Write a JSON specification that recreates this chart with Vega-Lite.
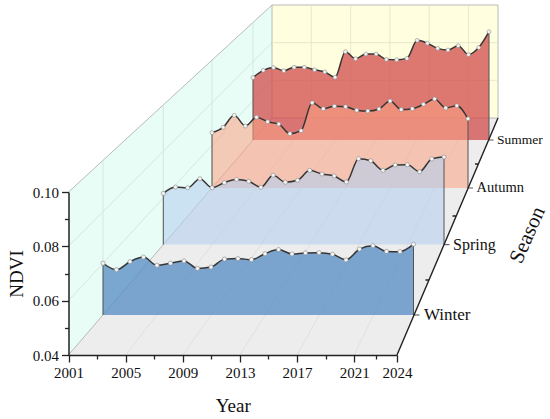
{
  "$schema": "https://vega.github.io/schema/vega-lite/v6.json",
  "width": 550,
  "height": 419,
  "autosize": "none",
  "padding": 0,
  "config": {
    "view": {"stroke": null},
    "axis": {
      "labelFont": "Liberation Serif", "labelFontSize": 15, "labelColor": "#111",
      "titleFont": "Liberation Serif", "titleFontSize": 19, "titleFontWeight": "normal", "titleColor": "#111",
      "domainColor": "#222", "domainWidth": 1.5, "tickColor": "#222", "tickWidth": 1.3
    }
  },
  "datasets": {
    "ndvi": [
      {"season": "Winter", "year": 2001, "ndvi": 0.0601}, {"season": "Winter", "year": 2002, "ndvi": 0.0576},
      {"season": "Winter", "year": 2003, "ndvi": 0.0607}, {"season": "Winter", "year": 2004, "ndvi": 0.0625},
      {"season": "Winter", "year": 2005, "ndvi": 0.0593}, {"season": "Winter", "year": 2006, "ndvi": 0.0601},
      {"season": "Winter", "year": 2007, "ndvi": 0.0610}, {"season": "Winter", "year": 2008, "ndvi": 0.0581},
      {"season": "Winter", "year": 2009, "ndvi": 0.0586}, {"season": "Winter", "year": 2010, "ndvi": 0.0617},
      {"season": "Winter", "year": 2011, "ndvi": 0.0619}, {"season": "Winter", "year": 2012, "ndvi": 0.0615},
      {"season": "Winter", "year": 2013, "ndvi": 0.0638}, {"season": "Winter", "year": 2014, "ndvi": 0.0654},
      {"season": "Winter", "year": 2015, "ndvi": 0.0637}, {"season": "Winter", "year": 2016, "ndvi": 0.0641},
      {"season": "Winter", "year": 2017, "ndvi": 0.0642}, {"season": "Winter", "year": 2018, "ndvi": 0.0636},
      {"season": "Winter", "year": 2019, "ndvi": 0.0614}, {"season": "Winter", "year": 2020, "ndvi": 0.0656},
      {"season": "Winter", "year": 2021, "ndvi": 0.0669}, {"season": "Winter", "year": 2022, "ndvi": 0.0647},
      {"season": "Winter", "year": 2023, "ndvi": 0.0646}, {"season": "Winter", "year": 2024, "ndvi": 0.0675},
      {"season": "Spring", "year": 2001, "ndvi": 0.0620}, {"season": "Spring", "year": 2002, "ndvi": 0.0647},
      {"season": "Spring", "year": 2003, "ndvi": 0.0644}, {"season": "Spring", "year": 2004, "ndvi": 0.0683},
      {"season": "Spring", "year": 2005, "ndvi": 0.0644}, {"season": "Spring", "year": 2006, "ndvi": 0.0666},
      {"season": "Spring", "year": 2007, "ndvi": 0.0680}, {"season": "Spring", "year": 2008, "ndvi": 0.0672},
      {"season": "Spring", "year": 2009, "ndvi": 0.0646}, {"season": "Spring", "year": 2010, "ndvi": 0.0698},
      {"season": "Spring", "year": 2011, "ndvi": 0.0668}, {"season": "Spring", "year": 2012, "ndvi": 0.0676},
      {"season": "Spring", "year": 2013, "ndvi": 0.0719}, {"season": "Spring", "year": 2014, "ndvi": 0.0703},
      {"season": "Spring", "year": 2015, "ndvi": 0.0695}, {"season": "Spring", "year": 2016, "ndvi": 0.0669},
      {"season": "Spring", "year": 2017, "ndvi": 0.0769}, {"season": "Spring", "year": 2018, "ndvi": 0.0760},
      {"season": "Spring", "year": 2019, "ndvi": 0.0719}, {"season": "Spring", "year": 2020, "ndvi": 0.0742},
      {"season": "Spring", "year": 2021, "ndvi": 0.0743}, {"season": "Spring", "year": 2022, "ndvi": 0.0713},
      {"season": "Spring", "year": 2023, "ndvi": 0.0768}, {"season": "Spring", "year": 2024, "ndvi": 0.0776},
      {"season": "Autumn", "year": 2001, "ndvi": 0.0660}, {"season": "Autumn", "year": 2002, "ndvi": 0.0685},
      {"season": "Autumn", "year": 2003, "ndvi": 0.0741}, {"season": "Autumn", "year": 2004, "ndvi": 0.0691},
      {"season": "Autumn", "year": 2005, "ndvi": 0.0732}, {"season": "Autumn", "year": 2006, "ndvi": 0.0711},
      {"season": "Autumn", "year": 2007, "ndvi": 0.0700}, {"season": "Autumn", "year": 2008, "ndvi": 0.0655},
      {"season": "Autumn", "year": 2009, "ndvi": 0.0669}, {"season": "Autumn", "year": 2010, "ndvi": 0.0800},
      {"season": "Autumn", "year": 2011, "ndvi": 0.0772}, {"season": "Autumn", "year": 2012, "ndvi": 0.0784},
      {"season": "Autumn", "year": 2013, "ndvi": 0.0782}, {"season": "Autumn", "year": 2014, "ndvi": 0.0765},
      {"season": "Autumn", "year": 2015, "ndvi": 0.0761}, {"season": "Autumn", "year": 2016, "ndvi": 0.0771},
      {"season": "Autumn", "year": 2017, "ndvi": 0.0808}, {"season": "Autumn", "year": 2018, "ndvi": 0.0768},
      {"season": "Autumn", "year": 2019, "ndvi": 0.0772}, {"season": "Autumn", "year": 2020, "ndvi": 0.0793},
      {"season": "Autumn", "year": 2021, "ndvi": 0.0818}, {"season": "Autumn", "year": 2022, "ndvi": 0.0776},
      {"season": "Autumn", "year": 2023, "ndvi": 0.0786}, {"season": "Autumn", "year": 2024, "ndvi": 0.0725},
      {"season": "Summer", "year": 2001, "ndvi": 0.0718}, {"season": "Summer", "year": 2002, "ndvi": 0.0755},
      {"season": "Summer", "year": 2003, "ndvi": 0.0769}, {"season": "Summer", "year": 2004, "ndvi": 0.0753},
      {"season": "Summer", "year": 2005, "ndvi": 0.0771}, {"season": "Summer", "year": 2006, "ndvi": 0.0771},
      {"season": "Summer", "year": 2007, "ndvi": 0.0758}, {"season": "Summer", "year": 2008, "ndvi": 0.0747},
      {"season": "Summer", "year": 2009, "ndvi": 0.0720}, {"season": "Summer", "year": 2010, "ndvi": 0.0850},
      {"season": "Summer", "year": 2011, "ndvi": 0.0814}, {"season": "Summer", "year": 2012, "ndvi": 0.0838},
      {"season": "Summer", "year": 2013, "ndvi": 0.0838}, {"season": "Summer", "year": 2014, "ndvi": 0.0811},
      {"season": "Summer", "year": 2015, "ndvi": 0.0809}, {"season": "Summer", "year": 2016, "ndvi": 0.0816},
      {"season": "Summer", "year": 2017, "ndvi": 0.0908}, {"season": "Summer", "year": 2018, "ndvi": 0.0893},
      {"season": "Summer", "year": 2019, "ndvi": 0.0867}, {"season": "Summer", "year": 2020, "ndvi": 0.0859},
      {"season": "Summer", "year": 2021, "ndvi": 0.0881}, {"season": "Summer", "year": 2022, "ndvi": 0.0835},
      {"season": "Summer", "year": 2023, "ndvi": 0.0871}, {"season": "Summer", "year": 2024, "ndvi": 0.0952}
    ]
  },
  "resolve": {"scale": {"x": "independent", "y": "independent"}},
  "layer": [
    {
      "data": {"values": [{}]},
      "encoding": {
        "x": {
          "datum": 2001, "type": "quantitative",
          "scale": {"domain": [2001, 2024], "range": [68.5, 397], "nice": false, "zero": false},
          "axis": {"orient": "bottom", "offset": -64, "values": [2001, 2005, 2009, 2013, 2017, 2021, 2024], "format": "d",
                   "title": "Year", "tickSize": 7, "labelPadding": 3, "titlePadding": 16, "labelFlush": false,
                   "labelOverlap": false, "grid": false, "zindex": 1}
        },
        "y": {
          "datum": 0.04, "type": "quantitative",
          "scale": {"domain": [0.04, 0.1], "range": [355, 192], "nice": false, "zero": false},
          "axis": {"orient": "left", "offset": -68.5, "values": [0.04, 0.06, 0.08, 0.1], "format": ".2f",
                   "title": "NDVI", "tickSize": 7, "labelPadding": 3, "titlePadding": 6, "labelFlush": false,
                   "grid": false, "zindex": 1}
        }
      },
      "layer": [
        {"mark": {"type": "point", "shape": "M0,0L0,-163L203.5,-350L203.5,-237Z", "size": 4, "filled": true,
                  "color": "#e8fdf6", "opacity": 1, "strokeWidth": 0}},
        {"mark": {"type": "point", "shape": "M0,0L328.5,0L429.5,-237L203.5,-237Z", "size": 4, "filled": true,
                  "color": "#ededed", "opacity": 1, "strokeWidth": 0}},
        {"mark": {"type": "point", "shape": "M0,-54.3L203.5,-274.7M0,-108.7L203.5,-312.3", "size": 4, "filled": false,
                  "color": "#cfdcd8", "opacity": 1, "strokeWidth": 0.7}},
        {"mark": {"type": "point", "shape": "M57.1,0L242.8,-237M114.3,0L282.1,-237M171.4,0L321.4,-237M228.5,0L360.6,-237M285.7,0L399.9,-237",
                  "size": 4, "filled": false, "color": "#dadada", "opacity": 1, "strokeWidth": 0.7}},
        {"mark": {"type": "point", "shape": "M0,-163L203.5,-350M0,0L203.5,-237", "size": 4, "filled": false,
                  "color": "#a8a8a8", "opacity": 1, "strokeWidth": 0.8}}
      ]
    },
    {
      "layer": [
        {
          "data": {"values": [{}]},
          "mark": {"type": "rect", "fill": "#ffffdf", "stroke": "#a8a8a8", "strokeWidth": 0.8},
          "encoding": {
            "x": {"datum": 2001, "type": "quantitative", "scale": {"domain": [2001, 2024], "range": [272, 498], "nice": false, "zero": false}, "axis": null},
            "x2": {"datum": 2024},
            "y": {"datum": 0.04, "type": "quantitative", "scale": {"domain": [0.04, 0.1], "range": [118, 5], "nice": false, "zero": false}, "axis": null},
            "y2": {"datum": 0.1}
          }
        },
        {
          "data": {"values": [{"year": 2005}, {"year": 2009}, {"year": 2013}, {"year": 2017}, {"year": 2021}]},
          "mark": {"type": "rule", "color": "#e2e2c8", "strokeWidth": 0.8},
          "encoding": {
            "x": {"field": "year", "type": "quantitative", "scale": {"domain": [2001, 2024], "range": [272, 498], "nice": false, "zero": false}, "axis": null},
            "y": {"datum": 0.04, "type": "quantitative", "scale": {"domain": [0.04, 0.1], "range": [118, 5], "nice": false, "zero": false}, "axis": null},
            "y2": {"datum": 0.1}
          }
        },
        {
          "data": {"values": [{"ndvi": 0.06}, {"ndvi": 0.08}]},
          "mark": {"type": "rule", "color": "#e2e2c8", "strokeWidth": 0.8},
          "encoding": {
            "x": {"datum": 2001, "type": "quantitative", "scale": {"domain": [2001, 2024], "range": [272, 498], "nice": false, "zero": false}, "axis": null},
            "x2": {"datum": 2024},
            "y": {"field": "ndvi", "type": "quantitative", "scale": {"domain": [0.04, 0.1], "range": [118, 5], "nice": false, "zero": false}, "axis": null}
          }
        }
      ]
    },
    {
      "data": {"name": "ndvi"},
      "transform": [{"filter": "datum.season === 'Summer'"}],
      "encoding": {
        "x": {"field": "year", "type": "quantitative", "scale": {"domain": [2001, 2024], "range": [253, 489], "nice": false, "zero": false}, "axis": null},
        "y": {"field": "ndvi", "type": "quantitative", "scale": {"domain": [0.04, 0.1], "range": [140, 22.3], "nice": false, "zero": false}, "axis": null}
      },
      "layer": [
        {"transform": [{"filter": "datum.year === 2001"}], "mark": {"type": "rule", "color": "#cfdcd8", "strokeWidth": 0.7},
         "encoding": {"y": {"datum": 0.04}, "y2": {"datum": 0.1}}},
        {"mark": {"type": "area", "color": "#d24b4c", "opacity": 0.75, "interpolate": "monotone"}, "encoding": {"y2": {"datum": 0.04}}},
        {"transform": [{"filter": "datum.year === 2001 || datum.year === 2024"}], "mark": {"type": "rule", "color": "#555", "strokeWidth": 1},
         "encoding": {"y2": {"datum": 0.04}}},
        {"mark": {"type": "line", "color": "#363636", "strokeWidth": 1.5, "interpolate": "monotone"}},
        {"mark": {"type": "point", "filled": true, "fill": "#f4f4f4", "stroke": "#8a8a8a", "strokeWidth": 0.6, "size": 15, "opacity": 1}},
        {"transform": [{"filter": "datum.year === 2024"}], "mark": {"type": "tick", "orient": "horizontal", "color": "#222", "size": 4.5, "thickness": 1.1, "xOffset": 2.25},
         "encoding": {"y": {"datum": 0.04}}},
        {"transform": [{"filter": "datum.year === 2024"}], "mark": {"type": "text", "align": "left", "baseline": "middle", "dx": 8, "font": "Liberation Serif", "fontSize": 13.5, "color": "#111"},
         "encoding": {"y": {"datum": 0.04}, "text": {"field": "season"}}}
      ]
    },
    {
      "data": {"name": "ndvi"},
      "transform": [{"filter": "datum.season === 'Autumn'"}],
      "encoding": {
        "x": {"field": "year", "type": "quantitative", "scale": {"domain": [2001, 2024], "range": [212, 468], "nice": false, "zero": false}, "axis": null},
        "y": {"field": "ndvi", "type": "quantitative", "scale": {"domain": [0.04, 0.1], "range": [188, 60.2], "nice": false, "zero": false}, "axis": null}
      },
      "layer": [
        {"transform": [{"filter": "datum.year === 2001"}], "mark": {"type": "rule", "color": "#cfdcd8", "strokeWidth": 0.7},
         "encoding": {"y": {"datum": 0.04}, "y2": {"datum": 0.1}}},
        {"mark": {"type": "area", "color": "#fca384", "opacity": 0.56, "interpolate": "monotone"}, "encoding": {"y2": {"datum": 0.04}}},
        {"transform": [{"filter": "datum.year === 2001 || datum.year === 2024"}], "mark": {"type": "rule", "color": "#555", "strokeWidth": 1},
         "encoding": {"y2": {"datum": 0.04}}},
        {"mark": {"type": "line", "color": "#363636", "strokeWidth": 1.5, "interpolate": "monotone"}},
        {"mark": {"type": "point", "filled": true, "fill": "#f4f4f4", "stroke": "#8a8a8a", "strokeWidth": 0.6, "size": 16, "opacity": 1}},
        {"transform": [{"filter": "datum.year === 2024"}], "mark": {"type": "tick", "orient": "horizontal", "color": "#222", "size": 5, "thickness": 1.1, "xOffset": 2.5},
         "encoding": {"y": {"datum": 0.04}}},
        {"transform": [{"filter": "datum.year === 2024"}], "mark": {"type": "text", "align": "left", "baseline": "middle", "dx": 8.5, "font": "Liberation Serif", "fontSize": 14.5, "color": "#111"},
         "encoding": {"y": {"datum": 0.04}, "text": {"field": "season"}}}
      ]
    },
    {
      "data": {"name": "ndvi"},
      "transform": [{"filter": "datum.season === 'Spring'"}],
      "encoding": {
        "x": {"field": "year", "type": "quantitative", "scale": {"domain": [2001, 2024], "range": [163.3, 444], "nice": false, "zero": false}, "axis": null},
        "y": {"field": "ndvi", "type": "quantitative", "scale": {"domain": [0.04, 0.1], "range": [244.6, 104.9], "nice": false, "zero": false}, "axis": null}
      },
      "layer": [
        {"transform": [{"filter": "datum.year === 2001"}], "mark": {"type": "rule", "color": "#cfdcd8", "strokeWidth": 0.7},
         "encoding": {"y": {"datum": 0.04}, "y2": {"datum": 0.1}}},
        {"mark": {"type": "area", "color": "#b5d1ef", "opacity": 0.6, "interpolate": "monotone"}, "encoding": {"y2": {"datum": 0.04}}},
        {"transform": [{"filter": "datum.year === 2001 || datum.year === 2024"}], "mark": {"type": "rule", "color": "#555", "strokeWidth": 1},
         "encoding": {"y2": {"datum": 0.04}}},
        {"mark": {"type": "line", "color": "#363636", "strokeWidth": 1.5, "interpolate": "monotone"}},
        {"mark": {"type": "point", "filled": true, "fill": "#f4f4f4", "stroke": "#8a8a8a", "strokeWidth": 0.6, "size": 17, "opacity": 1}},
        {"transform": [{"filter": "datum.year === 2024"}], "mark": {"type": "tick", "orient": "horizontal", "color": "#222", "size": 5.5, "thickness": 1.2, "xOffset": 2.75},
         "encoding": {"y": {"datum": 0.04}}},
        {"transform": [{"filter": "datum.year === 2024"}], "mark": {"type": "text", "align": "left", "baseline": "middle", "dx": 9, "font": "Liberation Serif", "fontSize": 16, "color": "#111"},
         "encoding": {"y": {"datum": 0.04}, "text": {"field": "season"}}}
      ]
    },
    {
      "data": {"name": "ndvi"},
      "transform": [{"filter": "datum.season === 'Winter'"}],
      "encoding": {
        "x": {"field": "year", "type": "quantitative", "scale": {"domain": [2001, 2024], "range": [103, 413.5], "nice": false, "zero": false}, "axis": null},
        "y": {"field": "ndvi", "type": "quantitative", "scale": {"domain": [0.04, 0.1], "range": [315, 160.5], "nice": false, "zero": false}, "axis": null}
      },
      "layer": [
        {"transform": [{"filter": "datum.year === 2001"}], "mark": {"type": "rule", "color": "#cfdcd8", "strokeWidth": 0.7},
         "encoding": {"y": {"datum": 0.04}, "y2": {"datum": 0.1}}},
        {"mark": {"type": "area", "color": "#5c91c5", "opacity": 0.8, "interpolate": "monotone"}, "encoding": {"y2": {"datum": 0.04}}},
        {"transform": [{"filter": "datum.year === 2001 || datum.year === 2024"}], "mark": {"type": "rule", "color": "#555", "strokeWidth": 1},
         "encoding": {"y2": {"datum": 0.04}}},
        {"mark": {"type": "line", "color": "#363636", "strokeWidth": 1.5, "interpolate": "monotone"}},
        {"mark": {"type": "point", "filled": true, "fill": "#f4f4f4", "stroke": "#8a8a8a", "strokeWidth": 0.6, "size": 18, "opacity": 1}},
        {"transform": [{"filter": "datum.year === 2024"}], "mark": {"type": "tick", "orient": "horizontal", "color": "#222", "size": 6, "thickness": 1.2, "xOffset": 3},
         "encoding": {"y": {"datum": 0.04}}},
        {"transform": [{"filter": "datum.year === 2024"}], "mark": {"type": "text", "align": "left", "baseline": "middle", "dx": 10.5, "font": "Liberation Serif", "fontSize": 17, "color": "#111"},
         "encoding": {"y": {"datum": 0.04}, "text": {"field": "season"}}}
      ]
    },
    {
      "data": {"values": [{}]},
      "encoding": {
        "x": {
          "datum": 2024, "type": "quantitative",
          "scale": {"domain": [2001, 2024], "range": [68.5, 397], "nice": false, "zero": false},
          "axis": {"orient": "bottom", "offset": -64, "values": [2003, 2007, 2011, 2015, 2019, 2022.5], "labels": false,
                   "domain": false, "tickSize": 4, "title": null, "grid": false, "zindex": 1}
        },
        "y": {
          "datum": 0.04, "type": "quantitative",
          "scale": {"domain": [0.04, 0.1], "range": [355, 192], "nice": false, "zero": false},
          "axis": {"orient": "left", "offset": -68.5, "values": [0.05, 0.07, 0.09], "labels": false,
                   "domain": false, "tickSize": 4, "title": null, "grid": false, "zindex": 1}
        }
      },
      "layer": [
        {"mark": {"type": "point", "shape": "M0,0L101,-237M32,-75L28.5,-75M59,-139L55.5,-139M81.5,-191L78,-191", "size": 4,
                  "filled": false, "color": "#222", "opacity": 1, "strokeWidth": 1.4}},
        {"mark": {"type": "text", "text": "Season", "font": "Liberation Serif", "fontSize": 21, "angle": 294,
                  "align": "center", "baseline": "middle", "dx": 162.8, "dy": 70.7, "color": "#111"}}
      ]
    }
  ]
}
